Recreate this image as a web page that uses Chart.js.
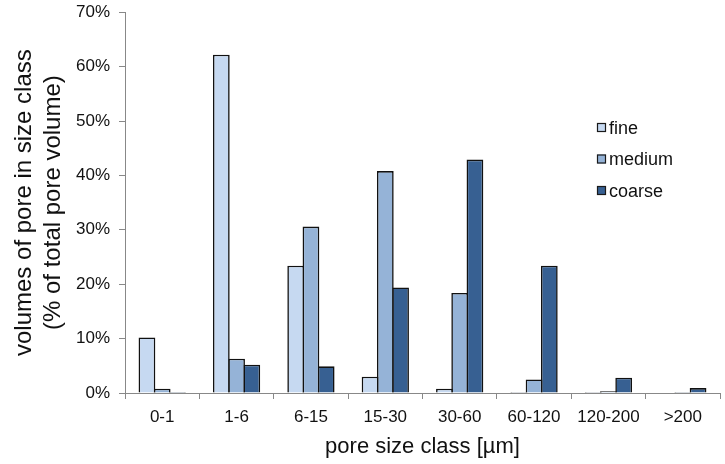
<!DOCTYPE html>
<html><head><meta charset="utf-8">
<script src="https://cdn.jsdelivr.net/npm/chart.js@4/dist/chart.umd.min.js"></script>
<style>html,body{margin:0;padding:0;background:#fff;overflow:hidden}#wrap{width:725px;height:464px;overflow:hidden}#c{display:block;margin-top:-7px}</style>
</head><body>
<div id="wrap"><canvas id="c" width="725" height="471"></canvas></div>
<script>
const categories = ["0-1","1-6","6-15","15-30","30-60","60-120","120-200",">200"];
const fine   = [10.2, 62.2, 23.4, 3.0, 0.8, 0.2, 0.2, null];
const medium = [0.8, 6.3, 30.6, 40.8, 18.4, 2.5, 0.3, 0.2];
const coarse = [0.2, 5.2, 4.9, 19.4, 42.9, 23.4, 2.8, 0.9];
const yTicks = [0,10,20,30,40,50,60,70];

const FONT = '"Liberation Sans", Arial, sans-serif';

const legendPlugin = {
  id: 'customLegend',
  afterDraw(chart) {
    const ctx = chart.ctx;
    ctx.save();
    ctx.font = '18px ' + FONT;
    ctx.textBaseline = 'middle';
    chart.data.datasets.forEach((ds, i) => {
      const y = 135 + i * 31.5;
      ctx.fillStyle = ds.backgroundColor;
      ctx.fillRect(597, y - 5, 9, 9);
      ctx.strokeStyle = '#1a1a1a';
      ctx.lineWidth = 1.2;
      ctx.strokeRect(597.5, y - 4.5, 8, 8);
      ctx.fillStyle = '#111';
      ctx.fillText(ds.label, 609, y + 1);
    });
    ctx.restore();
  }
};

new Chart(document.getElementById('c'), {
  type: 'bar',
  data: {
    labels: categories,
    datasets: [
      {label: 'fine', data: fine, backgroundColor: '#c6d9f1', borderColor: '#111', borderWidth: 1.6, inflateAmount: 0},
      {label: 'medium', data: medium, backgroundColor: '#95b3d7', borderColor: '#111', borderWidth: 1.6, inflateAmount: 0},
      {label: 'coarse', data: coarse, backgroundColor: '#376092', borderColor: '#111', borderWidth: 1.6, inflateAmount: 0}
    ]
  },
  options: {
    responsive: false,
    animation: false,
    layout: {padding: {top: 0, right: 5, left: 0, bottom: 0}},
    datasets: {bar: {categoryPercentage: 0.615, barPercentage: 1.1}},
    plugins: {legend: {display: false}, tooltip: {enabled: false}},
    scales: {
      x: {
        afterFit(axis) { axis.height = 71; },
        grid: {display: true, drawOnChartArea: false, color: '#888', tickLength: 6, offset: true},
        border: {display: true, color: '#888'},
        ticks: {color: '#111', font: {size: 17, family: FONT}, padding: 8},
        title: {display: true, text: 'pore size class [µm]', color: '#111', font: {size: 22, family: FONT}, padding: {top: 4}}
      },
      y: {
        min: 0, max: 70,
        afterFit(axis) { axis.width = 125; },
        afterBuildTicks(axis) { axis.ticks = yTicks.map(v => ({value: v})); },
        grid: {display: true, drawOnChartArea: false, color: '#888', tickLength: 6},
        border: {display: true, color: '#888'},
        ticks: {color: '#111', font: {size: 17, family: FONT}, padding: 9, callback: v => v + '%'},
        title: {display: true, text: ['volumes of pore in size class', '(% of total pore volume)'], color: '#111', font: {size: 24, family: FONT, lineHeight: 1.2}, padding: {top: 10, bottom: 6}}
      }
    }
  },
  plugins: [legendPlugin]
});
</script>
</body></html>
